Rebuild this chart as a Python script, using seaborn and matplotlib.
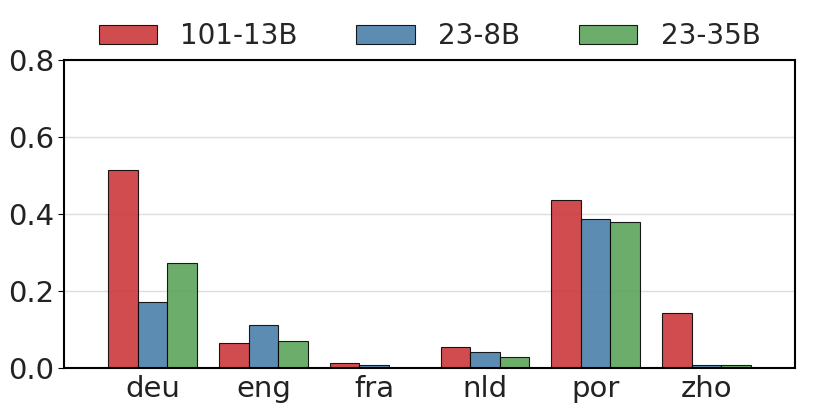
import pandas as pd
import matplotlib
matplotlib.use("Agg")
import matplotlib.pyplot as plt
import seaborn as sns

# 언어별 비율
languages = ["deu", "eng", "fra", "nld", "por", "zho"]
models = ["101-13B", "23-8B", "23-35B"]
vals_101_13b = [0.515, 0.064, 0.013, 0.056, 0.437, 0.142]
vals_23_8b = [0.171, 0.113, 0.007, 0.043, 0.387, 0.007]
vals_23_35b = [0.272, 0.070, 0.0, 0.028, 0.380, 0.007]

df = pd.DataFrame({
    "lang": languages * 3,
    "model": [models[0]] * 6 + [models[1]] * 6 + [models[2]] * 6,
    "value": vals_101_13b + vals_23_8b + vals_23_35b,
})

sns.set_style("whitegrid")
plt.rcParams["font.family"] = ["DejaVu Sans"]

fig, ax = plt.subplots(figsize=(8.3, 4.15), dpi=100)
sns.barplot(data=df, x="lang", y="value", hue="model", palette="Set1",
            order=languages, hue_order=models, width=0.8, alpha=0.88,
            edgecolor="black", linewidth=0.8, ax=ax)

ax.set_xlim(-0.8, 5.8)
ax.set_ylim(0, 0.8)
ax.set_yticks([0.0, 0.2, 0.4, 0.6, 0.8])
ax.set_xlabel("")
ax.set_ylabel("")
ax.tick_params(axis="both", labelsize=21, colors="#222222")
ax.tick_params(axis="y", length=4, color="black", left=True, pad=3)
ax.tick_params(axis="x", length=0, pad=5)
ax.grid(axis="x", visible=False)
ax.grid(axis="y", color="#dddddd", linewidth=1)
for s in ax.spines.values():
    s.set_color("black")
    s.set_linewidth(1.5)

ax.legend(loc="center", bbox_to_anchor=(0.5, 1.078), ncol=3,
          frameon=False, fontsize=20, handlelength=2.1, handleheight=0.72,
          columnspacing=2.1, handletextpad=0.85)

fig.subplots_adjust(left=0.077, right=0.958, top=0.855, bottom=0.113)
fig.savefig("out.png", dpi=100)
